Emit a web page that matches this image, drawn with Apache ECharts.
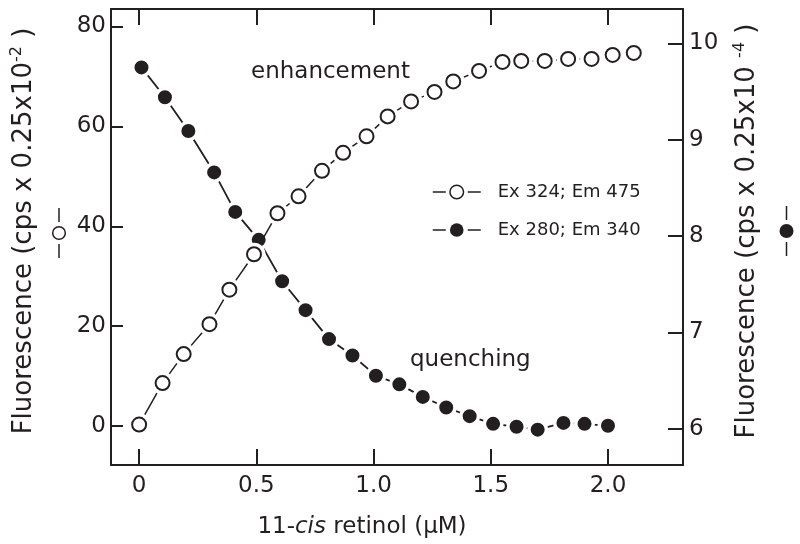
<!DOCTYPE html>
<html><head><meta charset="utf-8">
<script src="https://cdn.jsdelivr.net/npm/echarts@6.0.0/dist/echarts.min.js"></script>
<style>html,body{margin:0;padding:0;background:#fff}#c{width:800px;height:544px}</style>
</head><body><div id="c"></div>
<script>
// ---- data ----
const xOpen = [0, 0.10, 0.19, 0.30, 0.385, 0.49, 0.59, 0.68, 0.78, 0.87, 0.97, 1.06, 1.16, 1.26, 1.34, 1.45, 1.55, 1.63, 1.73, 1.83, 1.93, 2.02, 2.11];
const yOpen = [0.3, 8.6, 14.4, 20.4, 27.3, 34.4, 42.6, 46.0, 51.1, 54.7, 58.0, 62.0, 65.0, 66.9, 69.0, 71.1, 72.9, 73.1, 73.1, 73.5, 73.5, 74.3, 74.7];
const xFilled = [0.01, 0.11, 0.21, 0.32, 0.41, 0.51, 0.61, 0.71, 0.81, 0.91, 1.01, 1.11, 1.21, 1.31, 1.41, 1.51, 1.61, 1.70, 1.81, 1.90, 2.00];
const yFilled = [9.75, 9.44, 9.09, 8.66, 8.25, 7.96, 7.53, 7.23, 6.93, 6.76, 6.55, 6.46, 6.33, 6.22, 6.13, 6.05, 6.02, 5.99, 6.06, 6.05, 6.03];
const xTicks = [0, 0.5, 1.0, 1.5, 2.0];
const xTickLabels = ['0', '0.5', '1.0', '1.5', '2.0'];
const yLeftTicks = [0, 20, 40, 60, 80];
const yRightTicks = [6, 7, 8, 9, 10];
const nameOpen = 'Ex 324; Em 475';
const nameFilled = 'Ex 280; Em 340';

const INK = '#231f20';
const FONT = 'DejaVu Sans';
const pairs = (xs, ys) => xs.map((x, i) => [x, ys[i]]);

const chart = echarts.init(document.getElementById('c'), null, {renderer: 'canvas'});

const tickStyle = {color: INK, width: 2};
const lineStyleAxis = {show: true, onZero: false, lineStyle: {color: INK, width: 2}};

const option = {
  animation: false,
  backgroundColor: '#fff',
  grid: {left: 111, right: 117, top: 9, bottom: 79, containLabel: false},
  xAxis: [
    {type: 'value', position: 'bottom', min: -0.12, max: 2.32,
     axisLine: lineStyleAxis,
     axisTick: {show: true, inside: true, length: 16, lineStyle: tickStyle, customValues: xTicks},
     axisLabel: {show: true, customValues: xTicks, margin: 10, color: INK, fontFamily: FONT, fontSize: 23,
       formatter: v => { const i = xTicks.findIndex(t => Math.abs(t - v) < 1e-9); return i >= 0 ? xTickLabels[i] : ''; }},
     splitLine: {show: false}},
    {type: 'value', position: 'top', min: -0.12, max: 2.32,
     axisLine: lineStyleAxis,
     axisTick: {show: true, inside: true, length: 16, lineStyle: tickStyle, customValues: xTicks},
     axisLabel: {show: false},
     splitLine: {show: false}}
  ],
  yAxis: [
    {type: 'value', position: 'left', min: -7.8, max: 83.5,
     axisLine: lineStyleAxis,
     axisTick: {show: true, inside: true, length: 12, lineStyle: tickStyle, customValues: yLeftTicks},
     axisLabel: {show: true, customValues: yLeftTicks, margin: 5, color: INK, fontFamily: FONT, fontSize: 23},
     splitLine: {show: false}},
    {type: 'value', position: 'right', min: 5.623, max: 10.356,
     axisLine: lineStyleAxis,
     axisTick: {show: true, inside: true, length: 15, lineStyle: tickStyle, customValues: yRightTicks},
     axisLabel: {show: true, customValues: yRightTicks, margin: 6, color: INK, fontFamily: FONT, fontSize: 23},
     splitLine: {show: false}}
  ],
  legend: {
    orient: 'vertical', left: 432, top: 183, padding: 0,
    itemWidth: 48, itemHeight: 17, itemGap: 20, selectedMode: false,
    textStyle: {fontFamily: FONT, fontSize: 18, color: INK, padding: [0, 0, 0, 12]},
    lineStyle: {color: INK, width: 1.5, opacity: 1, type: [13, 22]},
    data: [
      {name: nameOpen, itemStyle: {color: '#fff', borderColor: INK, borderWidth: 1.5}},
      {name: nameFilled, itemStyle: {color: INK, borderWidth: 0}}
    ]
  },
  series: [
    {name: nameFilled, type: 'line', xAxisIndex: 0, yAxisIndex: 1, z: 2,
     data: pairs(xFilled, yFilled), symbol: 'circle', symbolSize: 17.5, showSymbol: true,
     itemStyle: {color: INK, borderColor: '#fff', borderWidth: 3.5},
     lineStyle: {color: INK, width: 1.8}, emphasis: {disabled: true}, silent: true},
    {name: '_gap', type: 'line', xAxisIndex: 0, yAxisIndex: 0, z: 3,
     data: pairs(xOpen, yOpen), symbol: 'circle', symbolSize: 23, showSymbol: true,
     itemStyle: {color: '#fff', borderWidth: 0},
     lineStyle: {color: INK, width: 1.5}, emphasis: {disabled: true}, silent: true},
    {name: nameOpen, type: 'line', xAxisIndex: 0, yAxisIndex: 0, z: 4,
     data: pairs(xOpen, yOpen), symbol: 'circle', symbolSize: 14, showSymbol: true,
     itemStyle: {color: '#fff', borderColor: INK, borderWidth: 2},
     lineStyle: {width: 0, opacity: 0}, emphasis: {disabled: true}, silent: true}
  ],
  graphic: [
    {type: 'text', x: 24, y: 231, rotation: Math.PI / 2, z: 10,
     style: {text: '{a|Fluorescence (cps x 0.25x10}{s|-2}{a| )}', align: 'center', verticalAlign: 'middle', fill: INK,
       rich: {a: {fontFamily: FONT, fontSize: 26, lineHeight: 30, fill: INK}, s: {fontFamily: FONT, fontSize: 16, lineHeight: 16, verticalAlign: 'top', fill: INK}}}},
    {type: 'text', x: 747, y: 231, rotation: Math.PI / 2, z: 10,
     style: {text: '{a|Fluorescence (cps x 0.25x10 }{s|-4}{a| )}', align: 'center', verticalAlign: 'middle', fill: INK,
       rich: {a: {fontFamily: FONT, fontSize: 26, lineHeight: 30, fill: INK}, s: {fontFamily: FONT, fontSize: 16, lineHeight: 16, verticalAlign: 'top', fill: INK}}}},
    {type: 'text', x: 362, y: 527, z: 10,
     style: {text: '{a|11-}{i|cis}{a| retinol (μM)}', align: 'center', verticalAlign: 'middle', fill: INK,
       rich: {a: {fontFamily: FONT, fontSize: 23, fill: INK}, i: {fontFamily: FONT, fontSize: 23, fontStyle: 'italic', fill: INK}}}},
    {type: 'text', x: 251, y: 72, z: 10,
     style: {text: 'enhancement', fontFamily: FONT, fontSize: 23, fill: INK, align: 'left', verticalAlign: 'middle'}},
    {type: 'text', x: 410, y: 360, z: 10,
     style: {text: 'quenching', fontFamily: FONT, fontSize: 23, fill: INK, align: 'left', verticalAlign: 'middle'}},
    // symbol keys next to axis titles
    {type: 'line', z: 10, shape: {x1: 59, y1: 208, x2: 59, y2: 222}, style: {stroke: INK, lineWidth: 1.5}},
    {type: 'circle', z: 10, shape: {cx: 59, cy: 233, r: 6.3}, style: {fill: '#fff', stroke: INK, lineWidth: 1.5}},
    {type: 'line', z: 10, shape: {x1: 59, y1: 244, x2: 59, y2: 258}, style: {stroke: INK, lineWidth: 1.5}},
    {type: 'line', z: 10, shape: {x1: 786.5, y1: 206, x2: 786.5, y2: 220}, style: {stroke: INK, lineWidth: 1.5}},
    {type: 'circle', z: 10, shape: {cx: 786.5, cy: 231, r: 7}, style: {fill: INK, stroke: null}},
    {type: 'line', z: 10, shape: {x1: 786.5, y1: 242, x2: 786.5, y2: 256}, style: {stroke: INK, lineWidth: 1.5}}
  ]
};
chart.setOption(option);
</script>
</body></html>
